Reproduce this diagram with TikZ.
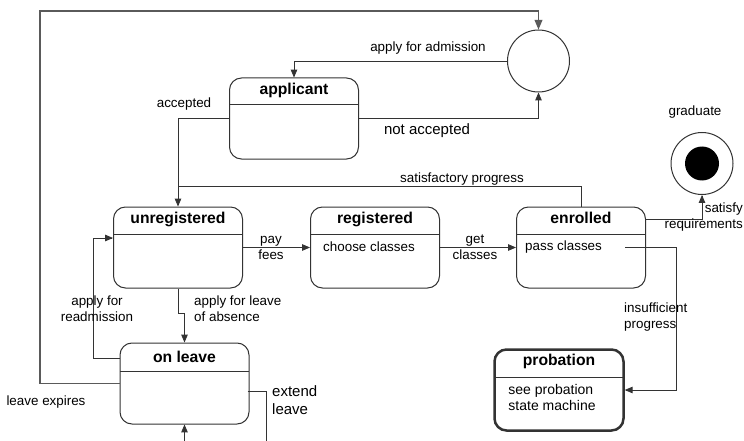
\documentclass[tikz,border=0pt]{standalone}
\usepackage{fontspec}
\setmainfont{Liberation Sans}
\usepackage{tikz}
\usetikzlibrary{calc,arrows,positioning}

\definecolor{linegray}{HTML}{333333}
\definecolor{framegray}{HTML}{5A5A5A}
\newcommand{\lblfont}{\fontsize{13.4}{16}\selectfont}
\newcommand{\bigfont}{\fontsize{15}{18}\selectfont}
\newcommand{\ttlfont}{\fontsize{15.7}{18}\selectfont\bfseries}

\tikzset{
  state/.style={draw=linegray, line width=1pt, rounded corners=12pt,
    minimum width=129pt, minimum height=81pt, inner sep=0pt,
    path picture={\draw[linegray, line width=1pt]
      ([yshift=-#1]path picture bounding box.north west) --
      ([yshift=-#1]path picture bounding box.north east);}},
  state/.default=27pt,
  title/.style={font=\ttlfont, inner sep=0pt, text height=11.5pt, text depth=3.5pt},
  body/.style={font=\lblfont, inner sep=0pt, anchor=base west, align=left},
  lbl/.style={font=\lblfont, inner sep=0pt, align=center},
  arr/.style={draw=linegray, line width=0.8pt, -{triangle 45}},
  link/.style={draw=linegray, line width=0.8pt},
}

\begin{document}
\begin{tikzpicture}[x=1pt, y=-1pt, node distance=67pt]
    	\useasboundingbox (0,0) rectangle (744,441);

    	% states
    	\node[circle, draw=linegray, line width=1pt, minimum size=62pt, inner sep=0pt] (choice) at (538.5,61) {};
    	\node[state] (applicant) at (294,118.5) {};
    	\node[title, below=5.5pt of applicant.north] (applicant-t) {applicant};
    	\node[state] (unreg) at (178,247.5) {};
    	\node[title, below=5.5pt of unreg.north] (unreg-t) {unregistered};
    	\node[state, right=of unreg] (reg) {};
    	\node[title, below=5.5pt of reg.north] (reg-t) {registered};
    	\node[body] (reg-b) at ([shift={(13,45)}]reg.north west) {choose classes};
    	\node[state, right=76pt of reg] (enrolled) {};
    	\node[title, below=5.5pt of enrolled.north] (enrolled-t) {enrolled};
    	\node[body] (enrolled-b) at ([shift={(9,44)}]enrolled.north west) {pass classes};
    	\node[state=28pt] (onleave) at (184.5,383.5) {};
    	\node[title, below=8pt of onleave.north] (onleave-t) {on leave};
    	\node[state=28pt, line width=2.5pt] (probation) at (559,390) {};
    	\node[title, below=5.5pt of probation.north] (probation-t) {probation};
    	\node[body, anchor=north west, font=\fontsize{14}{16}\selectfont] (probation-b) at ([shift={(15,36)}]probation.north west) {see probation\\state machine};
    	\node[circle, draw=linegray, line width=1pt, minimum size=62pt, inner sep=0pt] (final) at (702,163.5) {};
    	\node[circle, fill=black, minimum size=34pt, inner sep=0pt] (final-dot) at (final) {};

    	% free ends
    	\coordinate (corner) at (40,11);
    	\coordinate (merge) at (unreg.north |- 0,186);
    	\coordinate (readmit) at (93,238);
    	\coordinate (cutA) at (266,441);
    	\coordinate (cutB) at (184.5,441);

    	% transitions
    	\draw[arr, draw=framegray, line width=1.2pt] (onleave.west) -| (corner) -| (choice.north);
    	\draw[arr] (choice.west) -| (applicant.north);
    	\draw[arr] (applicant.east) -| (choice.south);
    	\draw[arr] (applicant.west) -| (unreg.north);
    	\draw[link] (enrolled.north) |- (merge);
    	\draw[arr] (enrolled.east |- enrolled-t) -| (final.south);
    	\draw[arr] (unreg.east) -- (reg.west);
    	\draw[arr] (reg.east) -- (enrolled.west);
    	\draw[arr] ([xshift=-21pt]enrolled.east) -- ++(51,0) |- (probation.east);
    	\draw[arr] (unreg.south) -- ++(0,25) -| (onleave.north);
    	\draw[arr] (onleave.west |- onleave-t) -| (readmit) -- (unreg.west |- readmit);
    	\draw[link] ([shift={(-2,7.5)}]onleave.east) -| (cutA);
    	\draw[arr] (cutB) -- (onleave.south);

    	% labels
    	\node[lbl] (lbl-admit) at (428,48) {apply for admission};
    	\node[lbl, font=\bigfont] (lbl-reject) at (427,131) {not accepted};
    	\node[lbl] (lbl-accept) at (184,104) {accepted};
    	\node[lbl] (lbl-sat) at (462,179) {satisfactory progress};
    	\node[lbl] (lbl-grad) at (695,112) {graduate};
    	\node[lbl, anchor=east, align=right] (lbl-req) at (743,217) {satisfy\\requirements};
    	\node[lbl] (lbl-pay) at (271,247.5) {pay\\fees};
    	\node[lbl] (lbl-get) at (475,247.5) {get\\classes};
    	\node[lbl, anchor=west, align=left] (lbl-insuf) at (624,317) {insufficient\\progress};
    	\node[lbl, anchor=west, align=left] (lbl-leave) at (194,308.5) {apply for leave\\of absence};
    	\node[lbl] (lbl-readmit) at (97,308.5) {apply for\\readmission};
    	\node[lbl] (lbl-expire) at (46,402) {leave expires};
    	\node[lbl, anchor=west, align=left, font=\bigfont] (lbl-extend) at (272,400) {extend\\leave};
    \end{tikzpicture}
\end{document}
